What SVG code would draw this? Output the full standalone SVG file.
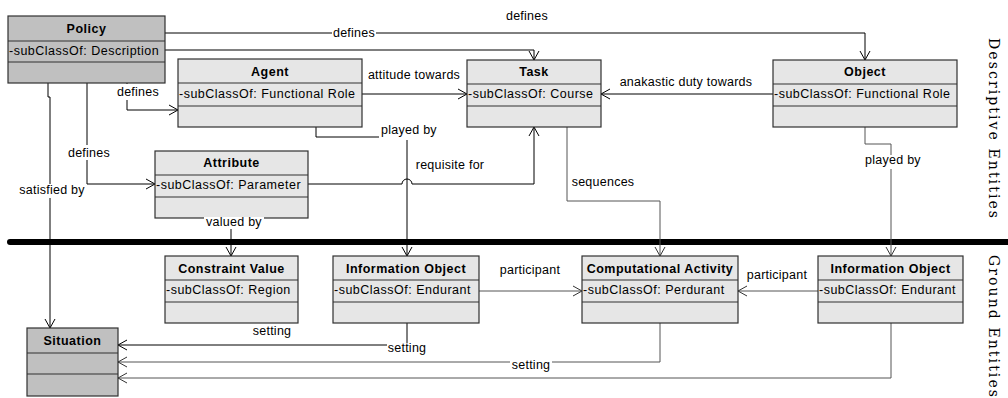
<svg xmlns="http://www.w3.org/2000/svg" width="1008" height="398" viewBox="0 0 1008 398">
<style>
.box{fill:#e6e6e6;stroke:#303030;stroke-width:1.2}
.dark{fill:#c0c0c0}
.t{font-family:"Liberation Sans",Arial,sans-serif;font-size:12.5px;font-weight:bold;text-anchor:middle;letter-spacing:0.5px;fill:#000}
.a{font-family:"Liberation Sans",Arial,sans-serif;font-size:12.5px;letter-spacing:0.5px;fill:#000}
.l{font-family:"Liberation Sans",Arial,sans-serif;font-size:12.5px;letter-spacing:0.25px;text-anchor:middle;fill:#000}
.c{fill:none;stroke:#000;stroke-width:1}
.g{stroke:#555}
.bg{fill:#fff}
.side{font-family:"DejaVu Serif","Liberation Serif",serif;font-size:14px;fill:#000}
</style>
<defs>
<marker id="ar" markerUnits="userSpaceOnUse" markerWidth="12" markerHeight="12" refX="9" refY="5" orient="auto" overflow="visible">
<path d="M0,0 L9,5 L0,10" fill="none" stroke="#000" stroke-width="1"/>
</marker>
<marker id="arg" markerUnits="userSpaceOnUse" markerWidth="12" markerHeight="12" refX="9" refY="5" orient="auto" overflow="visible">
<path d="M0,0 L9,5 L0,10" fill="none" stroke="#333" stroke-width="1"/>
</marker>
</defs>

<line x1="10" y1="242" x2="1010" y2="242" stroke="#000" stroke-width="6" stroke-linecap="round"/>

<g id="connectors">
<path class="c" d="M165,33 H865 V60" marker-end="url(#ar)"/>
<path class="c" d="M165,50 H534 V60" marker-end="url(#ar)"/>
<path class="c" d="M127,83 V110 H178" marker-end="url(#ar)"/>
<path class="c" d="M87,83 V184 H155" marker-end="url(#ar)"/>
<path class="c" d="M48,83 V97 H50 V328" marker-end="url(#ar)"/>
<path class="c" d="M362,94 H467" marker-end="url(#ar)"/>
<path class="c" d="M773,94 H601" marker-end="url(#ar)"/>
<path class="c" d="M316,127 V137 H407 V256" marker-end="url(#ar)"/>
<path class="c" d="M308,184 H402 A5,5 0 0 1 412,184 H534 V127" marker-end="url(#ar)"/>
<path class="c g" d="M567,127 V201 H660 V256" marker-end="url(#arg)"/>
<path class="c g" d="M865,127 V144 H891 V256" marker-end="url(#arg)"/>
<path class="c" d="M231,218 V256" marker-end="url(#ar)"/>
<path class="c g" d="M479,291 H582" marker-end="url(#arg)"/>
<path class="c g" d="M818,291 H738" marker-end="url(#arg)"/>
<path class="c" d="M407,323 V345 H118" marker-end="url(#ar)"/>
<path class="c g" d="M660,323 V362 H118" marker-end="url(#arg)"/>
<path class="c g" d="M891,323 V378 H118" marker-end="url(#arg)"/>
</g>

<g id="policy">
<rect class="box dark" x="8" y="16" width="157" height="67"/>
<line class="box" x1="8" y1="41" x2="165" y2="41"/>
<line class="box" x1="8" y1="62" x2="165" y2="62"/>
<text class="t" x="86.5" y="33">Policy</text>
<text class="a" x="9" y="55">-subClassOf: Description</text>
</g>

<g id="agent">
<rect class="box" x="178" y="59" width="184" height="68"/>
<line class="box" x1="178" y1="83" x2="362" y2="83"/>
<line class="box" x1="178" y1="106" x2="362" y2="106"/>
<text class="t" x="270" y="76">Agent</text>
<text class="a" x="179" y="98">-subClassOf: Functional Role</text>
</g>

<g id="task">
<rect class="box" x="467" y="60" width="134" height="67"/>
<line class="box" x1="467" y1="84" x2="601" y2="84"/>
<line class="box" x1="467" y1="106" x2="601" y2="106"/>
<text class="t" x="534" y="76">Task</text>
<text class="a" x="468" y="98">-subClassOf: Course</text>
</g>

<g id="object">
<rect class="box" x="773" y="60" width="184" height="67"/>
<line class="box" x1="773" y1="84" x2="957" y2="84"/>
<line class="box" x1="773" y1="106" x2="957" y2="106"/>
<text class="t" x="865" y="76">Object</text>
<text class="a" x="774" y="98">-subClassOf: Functional Role</text>
</g>

<g id="attribute">
<rect class="box" x="155" y="151" width="153" height="67"/>
<line class="box" x1="155" y1="175" x2="308" y2="175"/>
<line class="box" x1="155" y1="197" x2="308" y2="197"/>
<text class="t" x="231.5" y="167">Attribute</text>
<text class="a" x="156" y="189">-subClassOf: Parameter</text>
</g>

<g id="constraint-value">
<rect class="box" x="165" y="256" width="133" height="67"/>
<line class="box" x1="165" y1="280" x2="298" y2="280"/>
<line class="box" x1="165" y1="302" x2="298" y2="302"/>
<text class="t" x="231.5" y="273">Constraint Value</text>
<text class="a" x="166" y="294">-subClassOf: Region</text>
</g>

<g id="information-object-1">
<rect class="box" x="333" y="256" width="146" height="67"/>
<line class="box" x1="333" y1="280" x2="479" y2="280"/>
<line class="box" x1="333" y1="302" x2="479" y2="302"/>
<text class="t" x="406" y="273">Information Object</text>
<text class="a" x="334" y="294">-subClassOf: Endurant</text>
</g>

<g id="computational-activity">
<rect class="box" x="582" y="256" width="156" height="67"/>
<line class="box" x1="582" y1="280" x2="738" y2="280"/>
<line class="box" x1="582" y1="302" x2="738" y2="302"/>
<text class="t" x="660" y="273">Computational Activity</text>
<text class="a" x="583" y="294">-subClassOf: Perdurant</text>
</g>

<g id="information-object-2">
<rect class="box" x="818" y="256" width="145" height="67"/>
<line class="box" x1="818" y1="280" x2="963" y2="280"/>
<line class="box" x1="818" y1="302" x2="963" y2="302"/>
<text class="t" x="890.5" y="273">Information Object</text>
<text class="a" x="819" y="294">-subClassOf: Endurant</text>
</g>

<g id="situation">
<rect class="box dark" x="27" y="328" width="91" height="68"/>
<line class="box" x1="27" y1="353" x2="118" y2="353"/>
<line class="box" x1="27" y1="374" x2="118" y2="374"/>
<text class="t" x="72.5" y="345">Situation</text>
</g>

<g id="connector-labels">
<rect class="bg" x="332" y="26" width="44" height="14"/>
<text class="l" x="354" y="37">defines</text>
<text class="l" x="527" y="20">defines</text>
<rect class="bg" x="116" y="84" width="44" height="16"/>
<text class="l" x="138" y="96">defines</text>
<rect class="bg" x="67" y="145" width="44" height="15"/>
<text class="l" x="89" y="157">defines</text>
<rect class="bg" x="18" y="184" width="69" height="14"/>
<text class="l" x="52" y="194">satisfied by</text>
<text class="l" x="414" y="79">attitude towards</text>
<text class="l" x="686" y="86">anakastic duty towards</text>
<rect class="bg" x="379" y="128" width="61" height="12"/>
<text class="l" x="409" y="134">played by</text>
<text class="l" x="450" y="169">requisite for</text>
<text class="l" x="603" y="186">sequences</text>
<rect class="bg" x="864" y="155" width="59" height="14"/>
<text class="l" x="893" y="164">played by</text>
<rect class="bg" x="204" y="217" width="60" height="12"/>
<text class="l" x="234" y="226">valued by</text>
<text class="l" x="530" y="274">participant</text>
<text class="l" x="777" y="279">participant</text>
<text class="l" x="272" y="335">setting</text>
<rect class="bg" x="387" y="343" width="41" height="13"/>
<text class="l" x="407" y="352">setting</text>
<rect class="bg" x="510" y="359" width="42" height="13"/>
<text class="l" x="531" y="369">setting</text>
</g>

<text class="side" transform="translate(989,38) rotate(90)" textLength="180" lengthAdjust="spacing">Descriptive Entities</text>
<text class="side" transform="translate(989,255) rotate(90)" textLength="142" lengthAdjust="spacing">Ground Entities</text>
</svg>
